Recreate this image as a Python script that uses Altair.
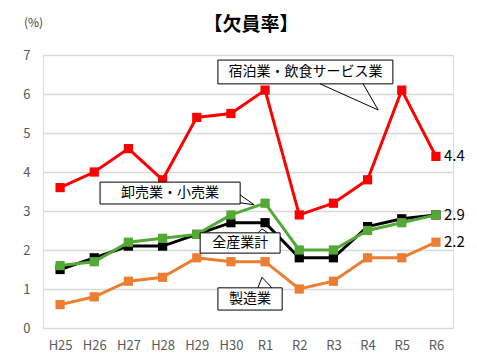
import altair as alt
import pandas as pd

years = ["H25", "H26", "H27", "H28", "H29", "H30", "R1", "R2", "R3", "R4", "R5", "R6"]
series_names = ["製造業", "全産業計", "卸売業・小売業", "宿泊業・飲食サービス業"]
manufacturing = [0.6, 0.8, 1.2, 1.3, 1.8, 1.7, 1.7, 1.0, 1.2, 1.8, 1.8, 2.2]
all_industry = [1.5, 1.8, 2.1, 2.1, 2.4, 2.7, 2.7, 1.8, 1.8, 2.6, 2.8, 2.9]
wholesale_retail = [1.6, 1.7, 2.2, 2.3, 2.4, 2.9, 3.2, 2.0, 2.0, 2.5, 2.7, 2.9]
hospitality = [3.6, 4.0, 4.6, 3.8, 5.4, 5.5, 6.1, 2.9, 3.2, 3.8, 6.1, 4.4]
series_values = [manufacturing, all_industry, wholesale_retail, hospitality]
colors = ["#ED7D31", "#000000", "#52A934", "#FF0000"]

# end-of-line value labels
end_label_series = ["宿泊業・飲食サービス業", "卸売業・小売業", "製造業"]

# callout annotations (data units: x = year index, y = rate)
callout_text = ["宿泊業・飲食サービス業", "卸売業・小売業", "全産業計", "製造業"]
callout_x1 = [4.62, 1.17, 4.10, 4.62]
callout_x2 = [9.74, 5.27, 6.44, 6.50]
callout_y1 = [6.87, 3.74, 2.44, 1.03]
callout_y2 = [6.26, 3.18, 1.92, 0.46]
# pointer segments: (xa, ya) -> (xb, yb)
ptr_xa = [7.61, 8.87, 5.27, 5.27, 5.79, 6.08, 5.79, 6.20]
ptr_ya = [6.26, 6.26, 3.41, 3.21, 2.44, 2.44, 1.03, 1.03]
ptr_xb = [9.31, 9.31, 5.68, 5.68, 5.91, 5.91, 5.91, 5.91]
ptr_yb = [5.59, 5.59, 3.16, 3.16, 2.54, 2.54, 1.30, 1.30]

FONT = "Noto Sans CJK JP"

rows = []
for name, vals in zip(series_names, series_values):
    for i, (yr, v) in enumerate(zip(years, vals)):
        rows.append({"series": name, "idx": i, "year": yr, "rate": v})
df = pd.DataFrame(rows)

end_df = df[(df["idx"] == len(years) - 1) & (df["series"].isin(end_label_series))].copy()
end_df["label"] = end_df["rate"].map(lambda v: f"{v:.1f}")

box_df = pd.DataFrame({
    "text": callout_text, "x1": callout_x1, "x2": callout_x2,
    "y1": callout_y1, "y2": callout_y2,
})
box_df["xm"] = (box_df["x1"] + box_df["x2"]) / 2
box_df["ym"] = (box_df["y1"] + box_df["y2"]) / 2
ptr_df = pd.DataFrame({"xa": ptr_xa, "ya": ptr_ya, "xb": ptr_xb, "yb": ptr_yb})

label_expr = "[" + ",".join(f"'{y}'" for y in years) + "][datum.value]"

x_scale = alt.Scale(domain=[-0.5, len(years) - 0.5], nice=False, zero=False)
y_scale = alt.Scale(domain=[0, 7], nice=False)

x_axis = alt.Axis(
    values=list(range(len(years))), labelExpr=label_expr, title=None,
    grid=False, domain=False, ticks=False, labelPadding=11,
    labelFontSize=13, labelColor="#595959", labelFont=FONT,
    labelOverlap=False, labelFlush=False,
)
y_axis = alt.Axis(
    values=list(range(0, 8)), title="(%)", titleAngle=0, titleX=-10, titleY=-33,
    titleAlign="center", titleBaseline="middle", titleFontSize=12,
    titleFontWeight="normal", titleColor="#404040", titleFont=FONT,
    grid=True, gridColor="#D9D9D9", gridWidth=1.3, domain=False, ticks=False,
    labelPadding=13, labelFontSize=13, labelColor="#595959", labelFont=FONT,
    labelOverlap=False, labelFlush=False,
)


def X(field):
    return alt.X(field, type="quantitative", scale=x_scale, axis=x_axis)


def Y(field):
    return alt.Y(field, type="quantitative", scale=y_scale, axis=y_axis)


color_scale = alt.Scale(domain=series_names, range=colors)

layers = []
for name in series_names:
    sub = alt.Chart(df[df["series"] == name])
    ln = sub.mark_line(strokeWidth=3).encode(
        x=X("idx"), y=Y("rate"),
        color=alt.Color("series:N", scale=color_scale, legend=None),
    )
    pt = sub.mark_point(shape="square", filled=True, size=85, opacity=1).encode(
        x=X("idx"), y=Y("rate"),
        color=alt.Color("series:N", scale=color_scale, legend=None),
    )
    layers += [ln, pt]

end_text = alt.Chart(end_df).mark_text(
    align="left", baseline="middle", dx=8, fontSize=15, font=FONT, color="#000000"
).encode(x=X("idx"), y=Y("rate"), text="label:N")

boxes = alt.Chart(box_df).mark_rect(
    fill="white", stroke="black", strokeWidth=1
).encode(x=X("x1"), x2="x2", y=Y("y1"), y2="y2")

box_text = alt.Chart(box_df).mark_text(
    fontSize=14, font=FONT, color="#000000", baseline="middle", align="center"
).encode(x=X("xm"), y=Y("ym"), text="text:N")

pointers = alt.Chart(ptr_df).mark_rule(color="black", strokeWidth=1).encode(
    x=X("xa"), y=Y("ya"), x2="xb", y2="yb"
)

chart = alt.layer(*layers, end_text, boxes, box_text, pointers).properties(
    width=410, height=273,
    title=alt.TitleParams(
        "【欠員率】", fontSize=19, fontWeight="bold", font=FONT, color="#000000",
        anchor="middle", frame="group", offset=-38, dx=3, baseline="bottom",
    ),
    autosize=alt.AutoSizeParams(type="none"),
    padding={"left": 43, "top": 55, "right": 24, "bottom": 25},
).configure_view(stroke=None).configure(background="white").configure_axis(
    labelOverlap=False, labelFlush=False
)

chart.save("out.html", embed_options={"renderer": "svg", "actions": False})
